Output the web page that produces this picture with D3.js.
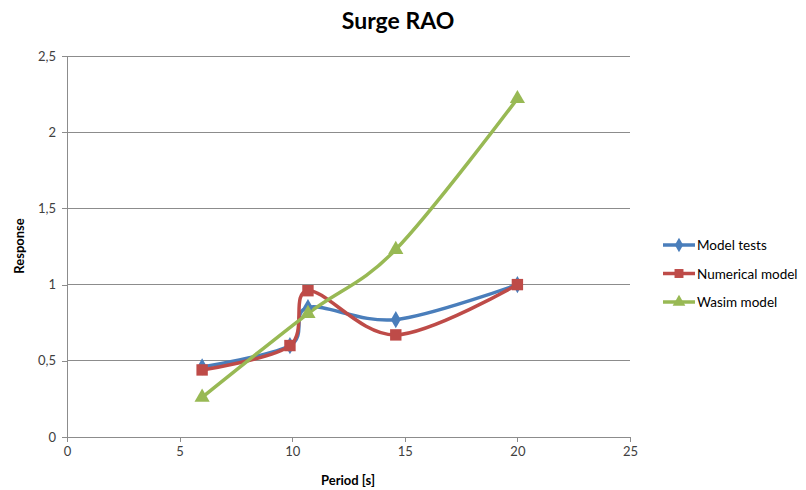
<!DOCTYPE html>
<html><head><meta charset="utf-8">
<script src="https://cdn.jsdelivr.net/npm/d3@7"></script>
<style>body{margin:0;background:#fff}svg{display:block}</style>
</head><body><svg id="c" width="806" height="490"></svg>
<script>
const seriesNames = ["Model tests", "Numerical model", "Wasim model"];
const modelTests = [[6,0.46],[9.9,0.6],[10.7,0.85],[14.6,0.77],[20,1.0]];
const numericalModel = [[6,0.44],[9.9,0.6],[10.7,0.96],[14.6,0.67],[20,1.0]];
const wasimModel = [[6,0.26],[10.7,0.81],[14.6,1.23],[20,2.22]];
const xTicks = [0,5,10,15,20,25];
const yTicks = [0,0.5,1,1.5,2,2.5];
const colors = ["#4a7ebb","#be4b48","#98b954"];
const symbols = [d3.symbolDiamond, d3.symbolSquare, d3.symbolTriangle];
const allSeries = [modelTests, numericalModel, wasimModel];

const svg = d3.select("#c");
const font = "Lato, 'Open Sans', sans-serif";
const x = d3.scaleLinear().domain([0,25]).range([67,630]);
const y = d3.scaleLinear().domain([0,2.5]).range([437,56]);
const fmt = d => String(d).replace(".", ",");

svg.append("g").selectAll("line").data(yTicks.filter(d=>d>0)).join("line")
  .attr("x1",x(0)).attr("x2",x(25)).attr("y1",d=>y(d)).attr("y2",d=>y(d))
  .attr("stroke","#8c8c8c").attr("stroke-width",1).attr("shape-rendering","crispEdges");

const yAxis = svg.append("g").attr("transform",`translate(${x(0)},0)`)
  .call(d3.axisLeft(y).tickValues(yTicks).tickFormat(fmt).tickSize(5).tickPadding(6));
const xAxis = svg.append("g").attr("transform",`translate(0,${y(0)})`)
  .call(d3.axisBottom(x).tickValues(xTicks).tickSize(5).tickPadding(5));
[xAxis,yAxis].forEach(a=>{
  a.selectAll("path,line").attr("stroke","#8c8c8c").attr("shape-rendering","crispEdges");
  a.selectAll("text").attr("fill","#404040").style("font-family",font).style("font-size","13px");
});

const line = d3.line().x(d=>x(d[0])).y(d=>y(d[1])).curve(d3.curveCardinal.tension(0));
allSeries.forEach((s,i)=>{
  svg.append("path").datum(s).attr("d",line).attr("fill","none")
    .attr("stroke",colors[i]).attr("stroke-width",3.5).attr("stroke-linejoin","round");
});
const sizes = [85, 130, 100];
allSeries.forEach((s,i)=>{
  svg.append("g").selectAll("path").data(s).join("path")
    .attr("transform",d=>`translate(${x(d[0])},${y(d[1])})`)
    .attr("d",d3.symbol().type(symbols[i]).size(sizes[i]))
    .attr("fill",colors[i]);
});

svg.append("text").attr("x",398).attr("y",29).attr("text-anchor","middle")
  .style("font-family",font).style("font-weight","bold").style("font-size","23px")
  .attr("fill","#000").text("Surge RAO");
svg.append("text").attr("x",348).attr("y",485).attr("text-anchor","middle")
  .style("font-family",font).style("font-weight","bold").style("font-size","13px")
  .attr("fill","#000").text("Period [s]");
svg.append("text").attr("transform","translate(24,246) rotate(-90)").attr("text-anchor","middle")
  .style("font-family",font).style("font-weight","bold").style("font-size","13px")
  .attr("fill","#000").text("Response");

const legSizes = [60, 80, 70];
const lg = svg.append("g");
seriesNames.forEach((n,i)=>{
  const yy = 245 + i*28.5;
  lg.append("line").attr("x1",663).attr("x2",695).attr("y1",yy).attr("y2",yy)
    .attr("stroke",colors[i]).attr("stroke-width",3.5);
  lg.append("path").attr("transform",`translate(679,${yy})`)
    .attr("d",d3.symbol().type(symbols[i]).size(legSizes[i])).attr("fill",colors[i]);
  lg.append("text").attr("x",697).attr("y",yy+5).style("font-family",font)
    .style("font-size","13.5px").attr("fill","#000").text(n);
});
</script></body></html>
